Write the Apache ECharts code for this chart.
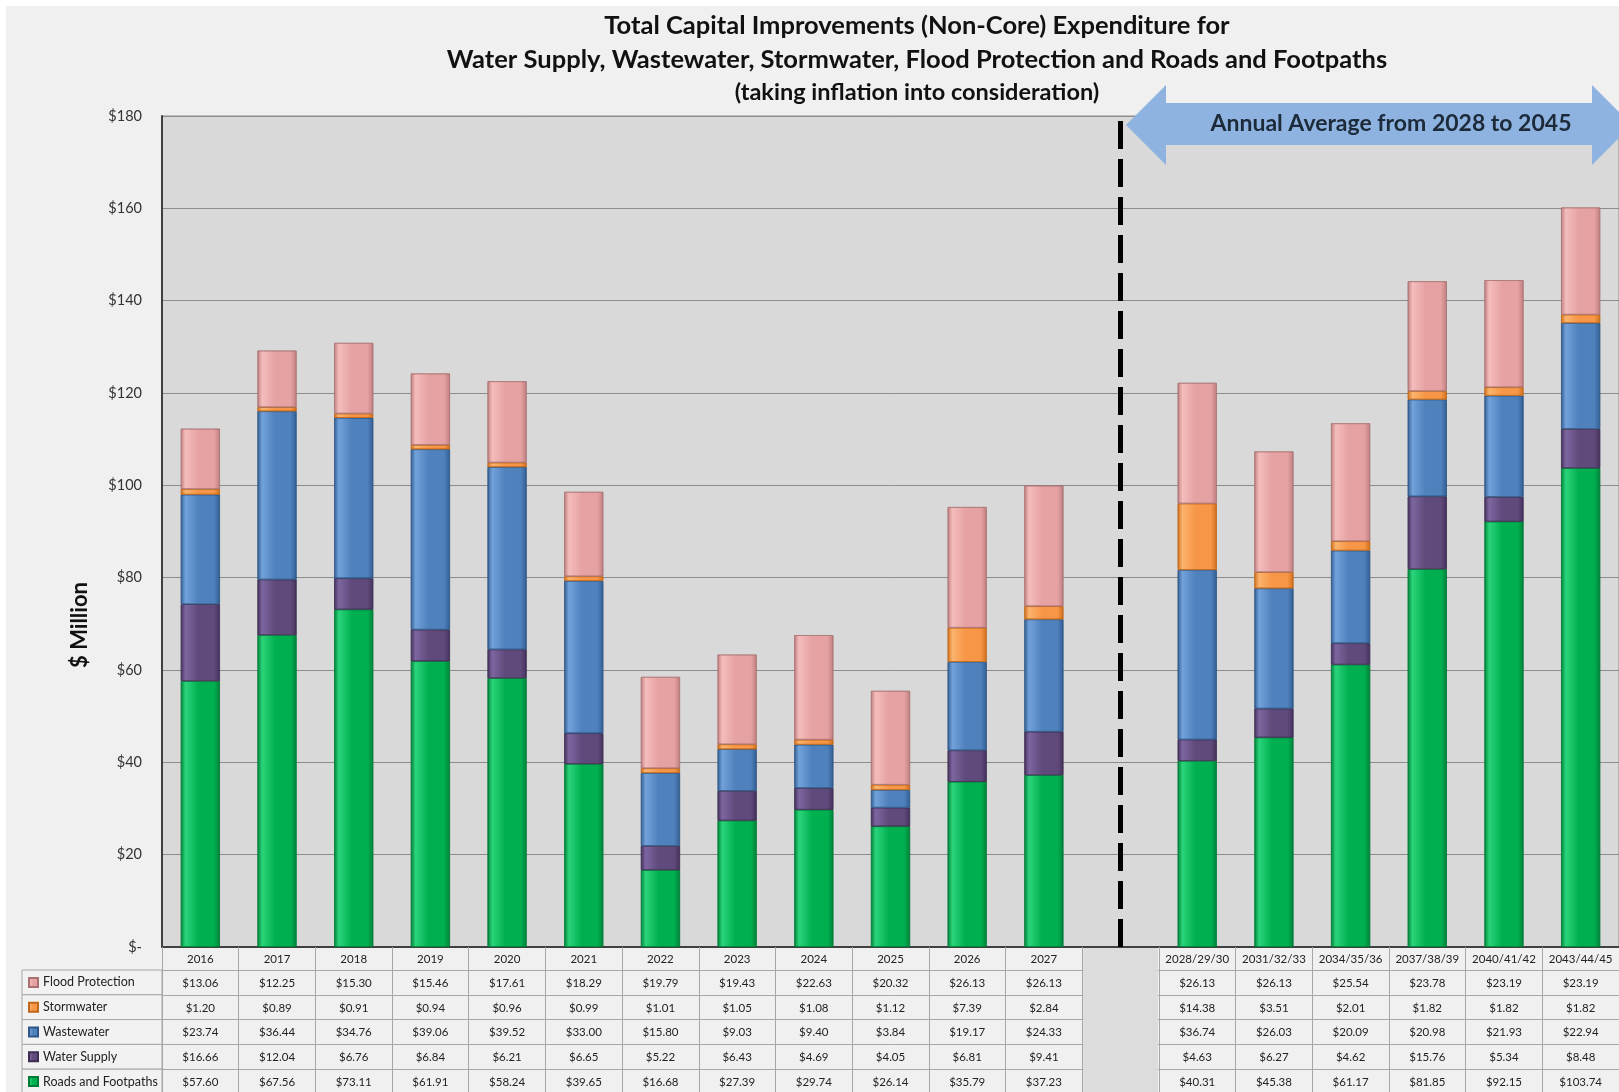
<!DOCTYPE html>
<html><head><meta charset="utf-8">
<script src="https://cdn.jsdelivr.net/npm/echarts@6/dist/echarts.min.js"></script>
<style>html,body{margin:0;padding:0;background:#fff;}#c{width:1619px;height:1092px;}</style>
</head><body><div id="c"></div>
<script>
// ---- data ----
const categories = ['2016','2017','2018','2019','2020','2021','2022','2023','2024','2025','2026','2027','',
  '2028/29/30','2031/32/33','2034/35/36','2037/38/39','2040/41/42','2043/44/45'];
const floodProtection = [13.06,12.25,15.30,15.46,17.61,18.29,19.79,19.43,22.63,20.32,26.13,26.13,null,26.13,26.13,25.54,23.78,23.19,23.19];
const stormwater      = [1.20,0.89,0.91,0.94,0.96,0.99,1.01,1.05,1.08,1.12,7.39,2.84,null,14.38,3.51,2.01,1.82,1.82,1.82];
const wastewater      = [23.74,36.44,34.76,39.06,39.52,33.00,15.80,9.03,9.40,3.84,19.17,24.33,null,36.74,26.03,20.09,20.98,21.93,22.94];
const waterSupply     = [16.66,12.04,6.76,6.84,6.21,6.65,5.22,6.43,4.69,4.05,6.81,9.41,null,4.63,6.27,4.62,15.76,5.34,8.48];
const roadsFootpaths  = [57.60,67.56,73.11,61.91,58.24,39.65,16.68,27.39,29.74,26.14,35.79,37.23,null,40.31,45.38,61.17,81.85,92.15,103.74];
const yMin = 0, yMax = 180, yStep = 20;
const dividerIndex = 12;

// ---- styling ----
const FONT = 'Lato, "Open Sans", sans-serif';
const GRID = {left:162, top:116, width:1469, height:831};
const YEAR_ROW_H = 23;
const ROW_H = 24.8;

function grad(edge, light, mid){
  return new echarts.graphic.LinearGradient(0,0,1,0,[
    {offset:0,color:edge},{offset:0.12,color:light},{offset:0.45,color:mid},
    {offset:0.85,color:mid},{offset:1,color:edge}]);
}
const seriesDefs = [
  {name:'Roads and Footpaths', data:roadsFootpaths, c:grad('#00833a','#2bd47a','#00b050'), b:'#007a35'},
  {name:'Water Supply', data:waterSupply, c:grad('#45325c','#7d66a0','#604a7b'), b:'#3d2d52'},
  {name:'Wastewater', data:wastewater, c:grad('#335f94','#72a2da','#4f81bd'), b:'#2e5685'},
  {name:'Stormwater', data:stormwater, c:grad('#d0701c','#fbb36d','#f79646'), b:'#c0661a'},
  {name:'Flood Protection', data:floodProtection, c:grad('#c07f80','#f5bcbc','#e6a2a3'), b:'#a87070'}
];
const tableRows = [
  {name:'Flood Protection', values:floodProtection},
  {name:'Stormwater', values:stormwater},
  {name:'Wastewater', values:wastewater},
  {name:'Water Supply', values:waterSupply},
  {name:'Roads and Footpaths', values:roadsFootpaths}
];

const chart = echarts.init(document.getElementById('c'));

const xAxes = [{
  type:'category', data:categories, gridIndex:0, position:'bottom',
  axisLine:{lineStyle:{color:'#404040', width:2}},
  axisTick:{show:true, interval:0, length:YEAR_ROW_H, lineStyle:{color:'#a6a6a6'}},
  axisLabel:{interval:0, margin:6, fontSize:11.5, color:'#222', fontFamily:FONT},
  splitLine:{show:false}
}];
tableRows.forEach((r,i)=>{
  xAxes.push({
    type:'category', data:categories, gridIndex:0, position:'bottom',
    offset: YEAR_ROW_H + i*ROW_H,
    axisLine:{lineStyle:{color:'#a6a6a6', width:1}},
    axisTick:{show:true, interval:0, length:ROW_H, lineStyle:{color:'#a6a6a6'}},
    axisLabel:{interval:0, margin:7, fontSize:11.5, color:'#222', fontFamily:FONT,
      formatter:(v,idx)=> r.values[idx]==null ? '' : '$' + r.values[idx].toFixed(2)},
    splitLine:{show:false}
  });
});

const series = seriesDefs.map((s,i)=>({
  name:s.name, type:'bar', stack:'total', data:s.data, barWidth:39,
  xAxisIndex:0, yAxisIndex:0,
  itemStyle:{color:s.c, borderColor:s.b, borderWidth:0.6},
  emphasis:{disabled:true}
}));
series[0].markLine = {
  silent:true, symbol:'none', label:{show:false},
  lineStyle:{color:'#000', width:5, type:[28,10]},
  data:[{xAxis:dividerIndex}]
};

const legendCells = tableRows.map((r,i)=>({
  type:'rect', z:0, shape:{x:22, y:GRID.top+GRID.height+YEAR_ROW_H+i*ROW_H, width:GRID.left-22, height:ROW_H},
  style:{fill:'#f2f2f2', stroke:'#a6a6a6', lineWidth:1}
}));

const graphics = [
  {type:'rect', z:50, shape:{x:0,y:0,width:1619,height:6}, style:{fill:'#fff'}},
  {type:'rect', z:50, shape:{x:0,y:0,width:6,height:1092}, style:{fill:'#fff'}},
  {type:'text', z:50, x:917, y:26, style:{text:'Total Capital Improvements (Non-Core) Expenditure for', font:'bold 25.5px '+FONT, fill:'#111', align:'center', verticalAlign:'middle'}},
  {type:'text', z:50, x:917, y:60, style:{text:'Water Supply, Wastewater, Stormwater, Flood Protection and Roads and Footpaths', font:'bold 25.5px '+FONT, fill:'#111', align:'center', verticalAlign:'middle'}},
  {type:'text', z:50, x:917, y:92, style:{text:'(taking inflation into consideration)', font:'bold 23.5px '+FONT, fill:'#111', align:'center', verticalAlign:'middle'}},
  {type:'text', z:50, x:80, y:625, rotation:Math.PI/2, style:{text:'$ Million', font:'bold 22px '+FONT, fill:'#111', align:'center', verticalAlign:'middle'}},
  {type:'polygon', z:60, shape:{points:[[1126,125],[1166,85],[1166,103],[1592,103],[1592,85],[1632,125],[1592,165],[1592,145],[1166,145],[1166,165]]},
    style:{fill:'#8fb3e0'}},
  {type:'text', z:61, x:1391, y:124, style:{text:'Annual Average from 2028 to 2045', font:'bold 23px '+FONT, fill:'#1c2a3a', align:'center', verticalAlign:'middle'}}
].concat(legendCells);

chart.setOption({
  backgroundColor:'#f0f0f0',
  animation:false,
  grid:{left:GRID.left, top:GRID.top, width:GRID.width, height:GRID.height, show:true,
    backgroundColor:'#d9d9d9', borderColor:'#8c8c8c', borderWidth:1},
  legend:{
    data:tableRows.map(r=>r.name), orient:'vertical', left:28, padding:0,
    top:GRID.top+GRID.height+YEAR_ROW_H+(ROW_H-14)/2, height:200,
    icon:'rect', itemWidth:9, itemHeight:9, itemGap:ROW_H-14, selectedMode:false,
    textStyle:{fontSize:12.5, lineHeight:14, color:'#222', fontFamily:FONT}
  },
  xAxis:xAxes,
  yAxis:{type:'value', min:yMin, max:yMax, interval:yStep,
    axisLine:{show:true, lineStyle:{color:'#404040', width:2}},
    axisTick:{show:false},
    axisLabel:{margin:20, fontSize:14.5, color:'#333', fontFamily:FONT,
      formatter:v=> v===0 ? '$-' : '$'+v},
    splitLine:{lineStyle:{color:'#8c8c8c', width:1}}
  },
  series:series,
  graphic:graphics
});

// cover table lines under the divider (gap) column
const p0 = chart.convertToPixel({xAxisIndex:0}, dividerIndex);
const p1 = chart.convertToPixel({xAxisIndex:0}, dividerIndex+1);
const slot = p1 - p0;
chart.setOption({graphic: graphics.concat([{
  type:'rect', z:40, shape:{x:p0-slot/2+1, y:GRID.top+GRID.height+1, width:slot-2, height:200},
  style:{fill:'#dcdcdc'}
}])});
</script></body></html>
